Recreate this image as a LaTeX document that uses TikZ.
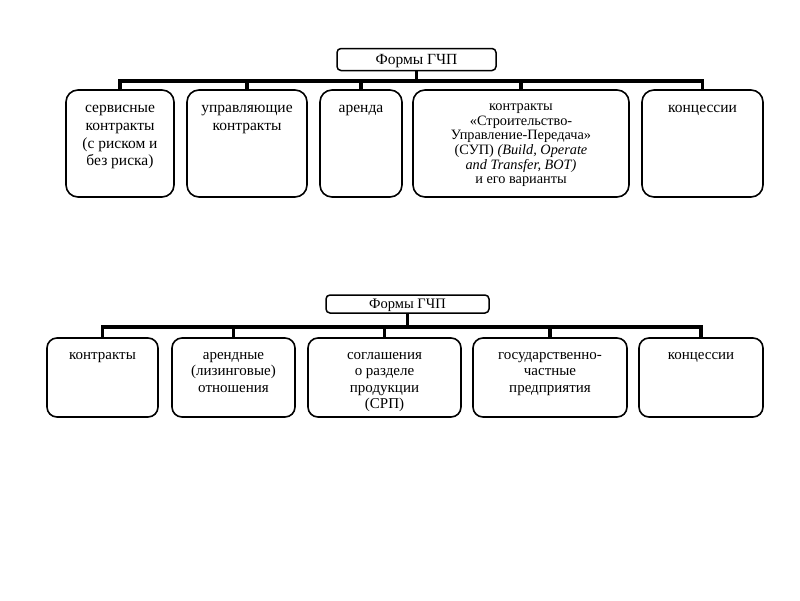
\documentclass[tikz,border=0pt]{standalone}
\usepackage{fontspec}
\setmainfont{Liberation Serif}
\begin{document}
\begin{tikzpicture}[x=1pt,y=-1pt,
  box/.style={draw=black,line width=1.6pt,rounded corners=12pt,inner sep=0pt},
  sbox/.style={draw=black,line width=1.6pt,rounded corners=10pt,inner sep=0pt},
  tbox/.style={draw=black,line width=1.5pt,rounded corners=4pt,inner sep=0pt},
  bus/.style={line width=3.4pt,line join=miter},
  lab/.style={anchor=north,inner sep=0pt,align=center,yshift=#1},
  ftop/.style={font=\fontsize{15.5}{17.7}\selectfont},
  fsmall/.style={font=\fontsize{14.3}{14.6}\selectfont},
  fbot/.style={font=\fontsize{15}{16.6}\selectfont}]
\useasboundingbox[fill=white] (0,0) rectangle (800,600);

% ---------- top diagram ----------
\node[tbox,minimum width=159pt,minimum height=22pt,text height=11pt,text depth=2pt,
  font=\fontsize{15.5}{17.7}\selectfont] (t) at (416.5,59.5) {Формы ГЧП};
\coordinate (bus) at (416.5,81);
\node[box,minimum width=108pt,minimum height=107pt,
  label={[lab=-11pt,ftop]north:\strut сервисные\\контракты\\(с риском и\\без риска)}] (b1) at (120,143.5) {};
\node[box,minimum width=120pt,minimum height=107pt,
  label={[lab=-11pt,ftop]north:\strut управляющие\\контракты}] (b2) at (247,143.5) {};
\node[box,minimum width=82pt,minimum height=107pt,
  label={[lab=-11pt,ftop]north:\strut аренда}] (b3) at (361,143.5) {};
\node[box,minimum width=216pt,minimum height=107pt,
  label={[lab=-11pt,fsmall]north:\strut контракты\\«Строительство-\\Управление-Передача»\\(СУП) \textit{(Build, Operate}\\\textit{and Transfer, BOT)}\\и его варианты}] (b4) at (521,143.5) {};
\node[box,minimum width=121pt,minimum height=107pt,
  label={[lab=-11pt,ftop]north:\strut концессии}] (b5) at (702.5,143.5) {};

\draw[bus] (b1.north) |- (bus) -| (b5.north);
\draw[bus] (t.south) -- (bus);
\draw[bus] (b2.north) -- (b2.north |- bus);
\draw[bus] (b3.north) -- (b3.north |- bus);
\draw[bus] (b4.north) -- (b4.north |- bus);

% ---------- bottom diagram ----------
\node[tbox,minimum width=163pt,minimum height=18pt,text height=10.5pt,text depth=2.5pt,
  font=\fontsize{14.5}{16.5}\selectfont] (s) at (407.5,304) {Формы ГЧП};
\coordinate (sbus) at (407.5,327);
\node[sbox,minimum width=111pt,minimum height=79pt,
  label={[lab=-10pt,fbot]north:\strut контракты}] (c1) at (102.5,377.5) {};
\node[sbox,minimum width=123pt,minimum height=79pt,
  label={[lab=-10pt,fbot]north:\strut арендные\\(лизинговые)\\отношения}] (c2) at (233.5,377.5) {};
\node[sbox,minimum width=153pt,minimum height=79pt,
  label={[lab=-10pt,fbot]north:\strut соглашения\\о разделе\\продукции\\(СРП)}] (c3) at (384.5,377.5) {};
\node[sbox,minimum width=154pt,minimum height=79pt,
  label={[lab=-10pt,fbot]north:\strut государственно-\\частные\\предприятия}] (c4) at (550,377.5) {};
\node[sbox,minimum width=124pt,minimum height=79pt,
  label={[lab=-10pt,fbot]north:\strut концессии}] (c5) at (701,377.5) {};

\draw[bus] (c1.north) |- (sbus) -| (c5.north);
\draw[bus] (s.south) -- (sbus);
\draw[bus] (c2.north) -- (c2.north |- sbus);
\draw[bus] (c3.north) -- (c3.north |- sbus);
\draw[bus] (c4.north) -- (c4.north |- sbus);
\end{tikzpicture}
\end{document}
